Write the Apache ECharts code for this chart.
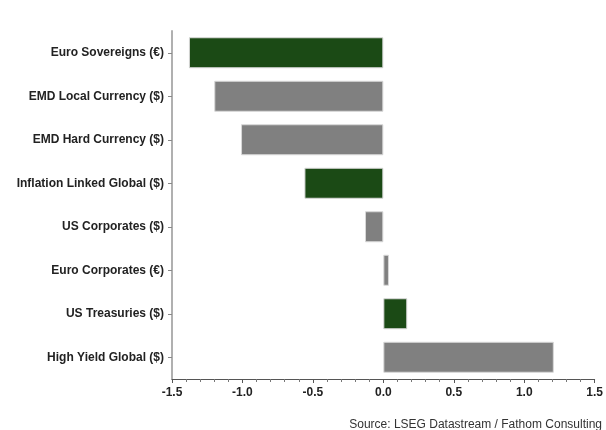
<!DOCTYPE html>
<html>
<head>
<meta charset="utf-8">
<script src="https://cdn.jsdelivr.net/npm/echarts@6/dist/echarts.min.js"></script>
<style>
  html, body { margin: 0; padding: 0; background: #fff; }
  #chart { width: 606px; height: 430px; }
</style>
</head>
<body>
<div id="chart"></div>
<script>
// Asset classes, top to bottom
const categories = [
  'Euro Sovereigns (€)',
  'EMD Local Currency ($)',
  'EMD Hard Currency ($)',
  'Inflation Linked Global ($)',
  'US Corporates ($)',
  'Euro Corporates (€)',
  'US Treasuries ($)',
  'High Yield Global ($)'
];
const values = [-1.38, -1.20, -1.01, -0.56, -0.13, 0.04, 0.17, 1.21];
// Classes drawn in green; the rest are grey
const highlighted = ['Euro Sovereigns (€)', 'Inflation Linked Global ($)', 'US Treasuries ($)'];
const xTicks = [-1.5, -1.0, -0.5, 0.0, 0.5, 1.0, 1.5];
const sourceText = 'Source: LSEG Datastream / Fathom Consulting';

const GREEN = '#1b4a15';
const GREY = '#808080';
const FONT = '"Liberation Sans", Arial, sans-serif';

const chart = echarts.init(document.getElementById('chart'), null, { renderer: 'canvas' });

chart.setOption({
  animation: false,
  backgroundColor: '#ffffff',
  grid: { left: 172, right: 8, top: 31, bottom: 51, containLabel: false },
  xAxis: {
    type: 'value',
    min: xTicks[0],
    max: xTicks[xTicks.length - 1],
    interval: 0.5,
    axisLine: { show: true, onZero: false, lineStyle: { color: '#555', width: 1 } },
    axisTick: { show: true, length: 4, lineStyle: { color: '#555' } },
    minorTick: { show: true, splitNumber: 5, length: 3, lineStyle: { color: '#777' } },
    splitLine: { show: false },
    axisLabel: {
      margin: 8,
      fontFamily: FONT,
      fontSize: 12,
      fontWeight: 'bold',
      color: '#222',
      formatter: v => v.toFixed(1)
    }
  },
  yAxis: {
    type: 'category',
    data: categories,
    inverse: true,
    axisLine: { show: true, onZero: false, lineStyle: { color: '#b0b0b0', width: 2 } },
    axisTick: { show: true, alignWithLabel: true, length: 4, lineStyle: { color: '#888' } },
    splitLine: { show: false },
    axisLabel: {
      margin: 8,
      fontFamily: FONT,
      fontSize: 12,
      fontWeight: 'bold',
      color: '#222'
    }
  },
  series: [{
    type: 'bar',
    data: values.map((v, i) => ({
      value: v,
      itemStyle: { color: highlighted.includes(categories[i]) ? GREEN : GREY }
    })),
    barWidth: 31,
    itemStyle: { borderColor: '#d8d8d8', borderWidth: 1 }
  }],
  graphic: [{
    type: 'text',
    right: 4,
    top: 419,
    style: {
      text: sourceText,
      fontFamily: FONT,
      fontSize: 12,
      fill: '#333'
    }
  }]
});
</script>
</body>
</html>
